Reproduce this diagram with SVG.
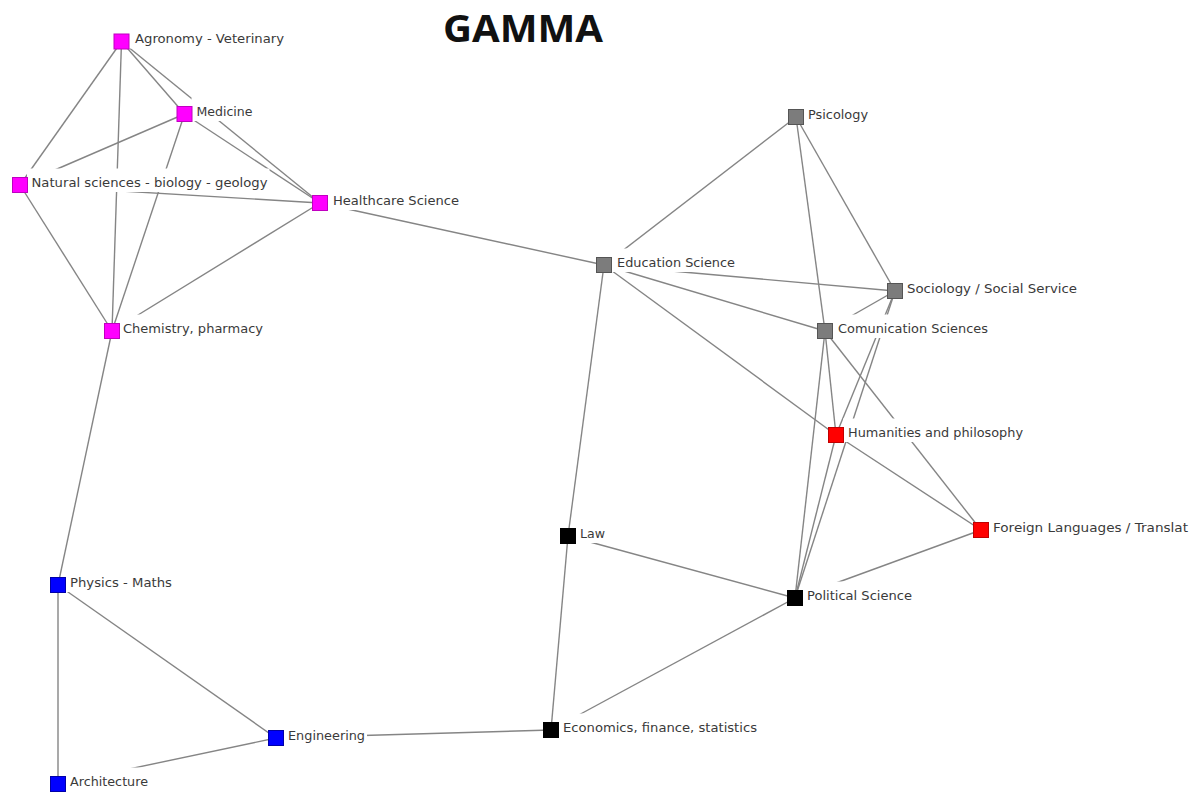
<svg xmlns="http://www.w3.org/2000/svg" width="1194" height="795" viewBox="0 0 1194 795">
  <style>
    .edge { stroke: #858585; stroke-width: 1.4; fill: none; }
    .bg { fill: #ffffff; }
    .lbl { font-family: "DejaVu Sans", Verdana, sans-serif; font-size: 13px; fill: #3a3a3a; }
    .title { font-family: "Open Sans", "Liberation Sans", sans-serif; font-size: 38px; font-weight: bold; fill: #111; }
    .sq { stroke-width: 1; }
    .mag { fill: #ff00ff; stroke: #c000c0; }
    .gry { fill: #7c7c7c; stroke: #555; }
    .red { fill: #ff0000; stroke: #c00000; }
    .blu { fill: #0000ff; stroke: #0000a8; }
    .blk { fill: #000000; stroke: #000; }
  </style>
  <rect width="1194" height="795" fill="#ffffff"/>

  <text class="title" x="443" y="42" textLength="160" lengthAdjust="spacingAndGlyphs">GAMMA</text>

  <!-- connectors, drawn centre to centre -->
  <g id="edges">
    <line class="edge" x1="121.5" y1="41.5" x2="20" y2="185"/>
    <line class="edge" x1="121.5" y1="41.5" x2="112" y2="331"/>
    <line class="edge" x1="121.5" y1="41.5" x2="184.5" y2="114"/>
    <line class="edge" x1="121.5" y1="41.5" x2="320" y2="203"/>
    <line class="edge" x1="184.5" y1="114" x2="20" y2="185"/>
    <line class="edge" x1="184.5" y1="114" x2="112" y2="331"/>
    <line class="edge" x1="184.5" y1="114" x2="320" y2="203"/>
    <line class="edge" x1="20" y1="185" x2="320" y2="203"/>
    <line class="edge" x1="20" y1="185" x2="112" y2="331"/>
    <line class="edge" x1="320" y1="203" x2="112" y2="331"/>
    <line class="edge" x1="112" y1="331" x2="58" y2="585"/>
    <line class="edge" x1="320" y1="203" x2="604" y2="265"/>
    <line class="edge" x1="58" y1="585" x2="58" y2="784"/>
    <line class="edge" x1="58" y1="585" x2="276" y2="738"/>
    <line class="edge" x1="58" y1="784" x2="276" y2="738"/>
    <line class="edge" x1="276" y1="738" x2="551" y2="730"/>
    <line class="edge" x1="551" y1="730" x2="568" y2="536"/>
    <line class="edge" x1="568" y1="536" x2="604" y2="265"/>
    <line class="edge" x1="551" y1="730" x2="795" y2="598"/>
    <line class="edge" x1="568" y1="536" x2="795" y2="598"/>
    <line class="edge" x1="604" y1="265" x2="796" y2="117"/>
    <line class="edge" x1="604" y1="265" x2="895" y2="291"/>
    <line class="edge" x1="604" y1="265" x2="825" y2="331"/>
    <line class="edge" x1="604" y1="265" x2="836" y2="435"/>
    <line class="edge" x1="796" y1="117" x2="825" y2="331"/>
    <line class="edge" x1="796" y1="117" x2="895" y2="291"/>
    <line class="edge" x1="895" y1="291" x2="825" y2="331"/>
    <line class="edge" x1="895" y1="291" x2="836" y2="435"/>
    <line class="edge" x1="895" y1="291" x2="795" y2="598"/>
    <line class="edge" x1="825" y1="331" x2="836" y2="435"/>
    <line class="edge" x1="825" y1="331" x2="795" y2="598"/>
    <line class="edge" x1="825" y1="331" x2="981" y2="530"/>
    <line class="edge" x1="836" y1="435" x2="981" y2="530"/>
    <line class="edge" x1="836" y1="435" x2="795" y2="598"/>
    <line class="edge" x1="981" y1="530" x2="795" y2="598"/>
  </g>

  <!-- nodes: opaque label box, label, square -->
  <g id="agronomy">
    <rect class="bg" x="128.5" y="25" width="158.5" height="23.5"/>
    <text class="lbl" x="135" y="43" textLength="149" lengthAdjust="spacingAndGlyphs">Agronomy - Veterinary</text>
    <rect class="sq mag" x="114" y="34" width="15" height="15"/>
  </g>
  <g id="medicine">
    <rect class="bg" x="191.5" y="97.5" width="63" height="23.5"/>
    <text class="lbl" x="196.5" y="115.5" textLength="56" lengthAdjust="spacingAndGlyphs">Medicine</text>
    <rect class="sq mag" x="177" y="106.5" width="15" height="15"/>
  </g>
  <g id="natural-sciences">
    <rect class="bg" x="27" y="168.5" width="242.5" height="23.5"/>
    <text class="lbl" x="31.5" y="186.5" textLength="236" lengthAdjust="spacingAndGlyphs">Natural sciences - biology - geology</text>
    <rect class="sq mag" x="12.5" y="177.5" width="15" height="15"/>
  </g>
  <g id="healthcare">
    <rect class="bg" x="327" y="186.5" width="134" height="23.5"/>
    <text class="lbl" x="333" y="204.5" textLength="126" lengthAdjust="spacingAndGlyphs">Healthcare Science</text>
    <rect class="sq mag" x="312.5" y="195.5" width="15" height="15"/>
  </g>
  <g id="chemistry">
    <rect class="bg" x="119" y="314.5" width="146" height="23.5"/>
    <text class="lbl" x="123" y="332.5" textLength="140" lengthAdjust="spacingAndGlyphs">Chemistry, pharmacy</text>
    <rect class="sq mag" x="104.5" y="323.5" width="15" height="15"/>
  </g>
  <g id="physics">
    <rect class="bg" x="65" y="568.5" width="109" height="23.5"/>
    <text class="lbl" x="70" y="586.5" textLength="102" lengthAdjust="spacingAndGlyphs">Physics - Maths</text>
    <rect class="sq blu" x="50.5" y="577.5" width="15" height="15"/>
  </g>
  <g id="architecture">
    <rect class="bg" x="65" y="767.5" width="85" height="23.5"/>
    <text class="lbl" x="70" y="785.5" textLength="78" lengthAdjust="spacingAndGlyphs">Architecture</text>
    <rect class="sq blu" x="50.5" y="776.5" width="15" height="15"/>
  </g>
  <g id="engineering">
    <rect class="bg" x="283" y="721.5" width="84" height="23.5"/>
    <text class="lbl" x="288" y="739.5" textLength="77" lengthAdjust="spacingAndGlyphs">Engineering</text>
    <rect class="sq blu" x="268.5" y="730.5" width="15" height="15"/>
  </g>
  <g id="economics">
    <rect class="bg" x="558" y="713.5" width="201" height="23.5"/>
    <text class="lbl" x="563" y="731.5" textLength="194" lengthAdjust="spacingAndGlyphs">Economics, finance, statistics</text>
    <rect class="sq blk" x="543.5" y="722.5" width="15" height="15"/>
  </g>
  <g id="law">
    <rect class="bg" x="575" y="519.5" width="32" height="23.5"/>
    <text class="lbl" x="580" y="537.5" textLength="25" lengthAdjust="spacingAndGlyphs">Law</text>
    <rect class="sq blk" x="560.5" y="528.5" width="15" height="15"/>
  </g>
  <g id="political-science">
    <rect class="bg" x="802" y="581.5" width="112" height="23.5"/>
    <text class="lbl" x="807" y="599.5" textLength="105" lengthAdjust="spacingAndGlyphs">Political Science</text>
    <rect class="sq blk" x="787.5" y="590.5" width="15" height="15"/>
  </g>
  <g id="education">
    <rect class="bg" x="611" y="248.5" width="126" height="23.5"/>
    <text class="lbl" x="617" y="266.5" textLength="118" lengthAdjust="spacingAndGlyphs">Education Science</text>
    <rect class="sq gry" x="596.5" y="257.5" width="15" height="15"/>
  </g>
  <g id="psicology">
    <rect class="bg" x="803" y="100.5" width="67" height="23.5"/>
    <text class="lbl" x="808" y="118.5" textLength="60" lengthAdjust="spacingAndGlyphs">Psicology</text>
    <rect class="sq gry" x="788.5" y="109.5" width="15" height="15"/>
  </g>
  <g id="sociology">
    <rect class="bg" x="902" y="274.5" width="177" height="23.5"/>
    <text class="lbl" x="907" y="292.5" textLength="170" lengthAdjust="spacingAndGlyphs">Sociology / Social Service</text>
    <rect class="sq gry" x="887.5" y="283.5" width="15" height="15"/>
  </g>
  <g id="comunication">
    <rect class="bg" x="832" y="314.5" width="158" height="23.5"/>
    <text class="lbl" x="838" y="332.5" textLength="150" lengthAdjust="spacingAndGlyphs">Comunication Sciences</text>
    <rect class="sq gry" x="817.5" y="323.5" width="15" height="15"/>
  </g>
  <g id="humanities">
    <rect class="bg" x="843" y="418.5" width="182" height="23.5"/>
    <text class="lbl" x="848" y="436.5" textLength="175" lengthAdjust="spacingAndGlyphs">Humanities and philosophy</text>
    <rect class="sq red" x="828.5" y="427.5" width="15" height="15"/>
  </g>
  <g id="foreign-languages">
    <rect class="bg" x="988" y="513.5" width="203" height="23.5"/>
    <text class="lbl" x="993" y="531.5" textLength="195" lengthAdjust="spacingAndGlyphs">Foreign Languages / Translat</text>
    <rect class="sq red" x="973.5" y="522.5" width="15" height="15"/>
  </g>
</svg>
